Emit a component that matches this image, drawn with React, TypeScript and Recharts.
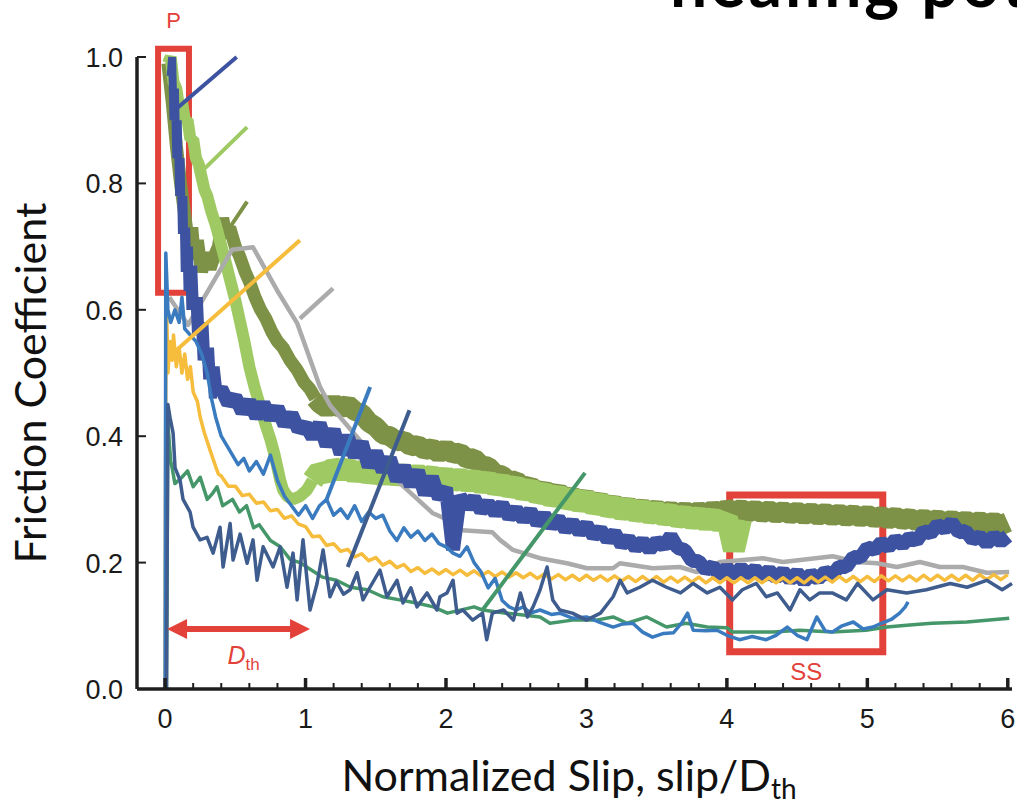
import { LineChart, Line, XAxis, YAxis, ReferenceArea, ReferenceLine } from 'recharts';

type Pt = [number, number];

const W = 1017;
const H = 807;

const X_TICKS = [0, 0.2, 0.4, 0.6, 0.8, 1, 1.2, 1.4, 1.6, 1.8, 2, 2.2, 2.4, 2.6, 2.8, 3, 3.2, 3.4, 3.6, 3.8, 4, 4.2, 4.4, 4.6, 4.8, 5, 5.2, 5.4, 5.6, 5.8, 6];
const Y_TICKS = [0, 0.2, 0.4, 0.6, 0.8, 1.0];

// dense noisy runs are sampled every GRID_STEP in slip
const GRID_STEP = 0.05;

// dark blue run: steep head, then sampled body from 0.40
const DARK_BLUE_HEAD: Pt[] = [
  [0.04, 0.97], [0.05, 1.0], [0.06, 0.9], [0.07, 0.95], [0.08, 0.84], [0.09, 0.9], [0.1, 0.78],
  [0.11, 0.84], [0.12, 0.72], [0.13, 0.78], [0.14, 0.66], [0.15, 0.73], [0.16, 0.63], [0.17, 0.7],
  [0.18, 0.6], [0.2, 0.67], [0.22, 0.56], [0.24, 0.62], [0.26, 0.52], [0.28, 0.58], [0.3, 0.49],
  [0.32, 0.54], [0.34, 0.46], [0.36, 0.51], [0.38, 0.47],
];
const DARK_BLUE_BODY = [
  0.475, 0.452, 0.462, 0.438, 0.455, 0.43, 0.452, 0.428, 0.445, 0.418, 0.435, 0.41,
  0.418, 0.398, 0.42, 0.385, 0.41, 0.372, 0.4, 0.368, 0.39, 0.352, 0.375, 0.345, 0.365, 0.33, 0.352, 0.322, 0.345, 0.308, 0.335, 0.302,
  0.318, 0.22, 0.305, 0.288, 0.302, 0.282, 0.294, 0.278, 0.292, 0.272, 0.284, 0.268, 0.282, 0.262, 0.275, 0.258, 0.27, 0.252, 0.264, 0.248,
  0.26, 0.242, 0.252, 0.236, 0.247, 0.228, 0.238, 0.223, 0.234, 0.22, 0.234, 0.226, 0.242, 0.223, 0.22, 0.203, 0.202, 0.188, 0.195, 0.178,
  0.192, 0.18, 0.192, 0.181, 0.19, 0.178, 0.188, 0.176, 0.186, 0.173, 0.184, 0.17, 0.182, 0.174, 0.186, 0.18, 0.194, 0.193, 0.209, 0.208,
  0.224, 0.22, 0.232, 0.224, 0.237, 0.228, 0.24, 0.234, 0.25, 0.246, 0.26, 0.253, 0.264, 0.248, 0.25, 0.236, 0.242, 0.23, 0.242, 0.233,
  0.242,
];

const LIGHT_GREEN_HEAD: Pt[] = [
  [0.02, 0.99], [0.04, 1.0], [0.06, 0.96], [0.08, 0.95], [0.1, 0.92], [0.12, 0.93], [0.14, 0.9],
  [0.16, 0.9], [0.18, 0.87], [0.2, 0.87], [0.22, 0.84], [0.24, 0.83], [0.26, 0.81], [0.28, 0.79],
  [0.3, 0.78], [0.33, 0.755], [0.36, 0.735], [0.39, 0.71], [0.42, 0.685], [0.46, 0.65], [0.5, 0.615],
  [0.53, 0.585], [0.56, 0.555], [0.6, 0.51], [0.64, 0.475], [0.68, 0.445], [0.72, 0.415], [0.75, 0.395],
  [0.78, 0.37], [0.8, 0.35], [0.82, 0.33], [0.84, 0.315], [0.87, 0.305], [0.91, 0.3], [0.96, 0.305],
  [1.01, 0.315], [1.05, 0.33],
];
const LIGHT_GREEN_BODY = [
  0.345, 0.34, 0.35, 0.345, 0.35, 0.34, 0.348, 0.338, 0.345, 0.336, 0.344, 0.335, 0.342, 0.334, 0.34, 0.333, 0.338, 0.33,
  0.336, 0.328, 0.334, 0.327, 0.332, 0.324, 0.33, 0.32, 0.326, 0.317, 0.322, 0.312, 0.318, 0.307, 0.312, 0.302, 0.308, 0.298, 0.303, 0.294,
  0.3, 0.29, 0.295, 0.286, 0.29, 0.282, 0.287, 0.279, 0.284, 0.276, 0.281, 0.274, 0.278, 0.27, 0.275, 0.268, 0.273, 0.265, 0.272, 0.262,
  0.27, 0.22, 0.268,
];

const OLIVE_HEAD: Pt[] = [
  [0.02, 0.99], [0.05, 0.93], [0.08, 0.86], [0.11, 0.8], [0.14, 0.75], [0.17, 0.7], [0.19, 0.73],
  [0.21, 0.68], [0.23, 0.71], [0.26, 0.66], [0.29, 0.69], [0.32, 0.665], [0.35, 0.685], [0.38, 0.7],
  [0.41, 0.745], [0.43, 0.72], [0.46, 0.73], [0.5, 0.7], [0.53, 0.685], [0.57, 0.66], [0.6, 0.645],
  [0.64, 0.62], [0.68, 0.6], [0.72, 0.585], [0.76, 0.565], [0.8, 0.55], [0.84, 0.54], [0.89, 0.52],
  [0.94, 0.505], [0.99, 0.485], [1.03, 0.475], [1.07, 0.46],
];
const OLIVE_BODY = [
  0.452, 0.444, 0.452, 0.444, 0.45, 0.44, 0.436, 0.422, 0.415, 0.403, 0.4, 0.392, 0.393, 0.384, 0.386, 0.378, 0.381, 0.373,
  0.38, 0.372, 0.374, 0.364, 0.365, 0.354, 0.352, 0.34, 0.338, 0.328, 0.33, 0.318, 0.322, 0.31, 0.316, 0.305, 0.312, 0.3, 0.306, 0.296,
  0.303, 0.292, 0.298, 0.288, 0.293, 0.284, 0.29, 0.281, 0.287, 0.279, 0.285, 0.277, 0.283, 0.276, 0.282, 0.275, 0.282, 0.276, 0.284, 0.277,
  0.286, 0.28, 0.285, 0.279, 0.284, 0.278, 0.283, 0.277, 0.282, 0.276, 0.281, 0.275, 0.28, 0.274, 0.279, 0.273, 0.278, 0.272, 0.277, 0.271,
  0.276, 0.27, 0.274, 0.268, 0.273, 0.267, 0.271, 0.265, 0.27, 0.264, 0.269, 0.263, 0.268, 0.262, 0.267, 0.261, 0.266, 0.26, 0.265, 0.259,
  0.264,
];

const GRAY: Pt[] = [
  [0.03, 0.62], [0.164, 0.576], [0.477, 0.695], [0.626, 0.699], [0.797, 0.631], [0.94, 0.579],
  [1.103, 0.478], [1.174, 0.449], [1.4, 0.39], [1.65, 0.33], [1.907, 0.278], [2.05, 0.264],
  [2.064, 0.252], [2.33, 0.248], [2.384, 0.236], [2.477, 0.22], [2.669, 0.207], [2.861, 0.199],
  [3.004, 0.191], [3.189, 0.191], [3.238, 0.199], [3.473, 0.191], [3.665, 0.193], [3.786, 0.185],
  [3.95, 0.201], [4.256, 0.207], [4.399, 0.201], [4.754, 0.21], [4.925, 0.201], [5.068, 0.199],
  [5.21, 0.193], [5.374, 0.201], [5.516, 0.193], [5.68, 0.193], [5.85, 0.184], [6.01, 0.185],
];

const YELLOW_HEAD: Pt[] = [
  [0.0, 0.0], [0.007, 0.65], [0.02, 0.5], [0.035, 0.55], [0.05, 0.52], [0.06, 0.56], [0.08, 0.51],
  [0.1, 0.54], [0.12, 0.5], [0.14, 0.53], [0.16, 0.49], [0.18, 0.51], [0.2, 0.47], [0.23, 0.455],
  [0.25, 0.43], [0.28, 0.405], [0.32, 0.378], [0.36, 0.352], [0.38, 0.34],
];
const YELLOW_BODY = [
  0.337, 0.321, 0.321, 0.306, 0.308, 0.294, 0.296, 0.282, 0.284, 0.270, 0.274, 0.261, 0.257, 0.241, 0.242, 0.227,
  0.230, 0.218, 0.221, 0.209, 0.214, 0.203, 0.208, 0.196, 0.202, 0.192, 0.197, 0.186, 0.192, 0.183, 0.190, 0.182,
  0.189, 0.181, 0.188, 0.180, 0.187, 0.179, 0.186, 0.178, 0.185, 0.177, 0.184, 0.176, 0.183, 0.175, 0.182, 0.174,
  0.181, 0.173, 0.180, 0.172, 0.180, 0.172, 0.179, 0.171, 0.179, 0.171, 0.178, 0.170, 0.178, 0.170, 0.178, 0.169,
  0.177, 0.169, 0.177, 0.169, 0.177, 0.168, 0.176, 0.168, 0.176, 0.168, 0.176, 0.168, 0.176, 0.168, 0.176, 0.168,
  0.176, 0.168, 0.176, 0.168, 0.177, 0.169, 0.177, 0.169, 0.178, 0.170, 0.178, 0.170, 0.178, 0.170, 0.179, 0.171,
  0.179, 0.171, 0.179, 0.171, 0.180, 0.172, 0.180, 0.172, 0.180, 0.172, 0.180, 0.172, 0.181, 0.173, 0.181, 0.173,
  0.181,
];

const MEDIUM_BLUE: Pt[] = [
  [0.0, 0.0], [0.005, 0.69], [0.02, 0.6], [0.04, 0.58], [0.07, 0.6], [0.1, 0.58], [0.12, 0.62],
  [0.14, 0.57], [0.18, 0.56], [0.22, 0.55], [0.26, 0.53], [0.3, 0.5], [0.33, 0.46], [0.36, 0.43],
  [0.4, 0.4], [0.44, 0.385], [0.48, 0.37], [0.52, 0.355], [0.56, 0.365], [0.6, 0.345], [0.65, 0.36],
  [0.7, 0.34], [0.75, 0.37], [0.8, 0.33], [0.85, 0.305], [0.9, 0.29], [0.95, 0.275], [1.0, 0.29],
  [1.05, 0.27], [1.1, 0.29], [1.15, 0.3], [1.2, 0.275], [1.25, 0.285], [1.3, 0.27], [1.35, 0.29],
  [1.4, 0.265], [1.45, 0.28], [1.5, 0.27], [1.55, 0.275], [1.6, 0.25], [1.65, 0.235], [1.7, 0.255],
  [1.75, 0.24], [1.8, 0.25], [1.85, 0.235], [1.9, 0.245], [1.95, 0.23], [2.0, 0.225], [2.05, 0.215],
  [2.1, 0.21], [2.15, 0.225], [2.2, 0.2], [2.25, 0.185], [2.3, 0.16], [2.35, 0.175], [2.4, 0.14],
  [2.45, 0.13], [2.5, 0.125], [2.55, 0.13], [2.6, 0.12], [2.67, 0.125], [2.75, 0.118], [2.81, 0.12],
  [2.9, 0.112], [3.0, 0.114], [3.1, 0.105], [3.19, 0.098], [3.26, 0.103], [3.33, 0.104], [3.4, 0.09],
  [3.47, 0.082], [3.55, 0.088], [3.62, 0.089], [3.68, 0.105], [3.72, 0.12], [3.76, 0.093], [3.85, 0.092],
  [3.93, 0.093], [4.0, 0.085], [4.09, 0.078], [4.18, 0.083], [4.28, 0.078], [4.35, 0.085], [4.43, 0.098],
  [4.5, 0.085], [4.57, 0.078], [4.64, 0.114], [4.7, 0.092], [4.75, 0.09], [4.82, 0.1], [4.9, 0.106],
  [4.97, 0.095], [5.04, 0.098], [5.1, 0.104], [5.17, 0.11], [5.23, 0.12], [5.27, 0.13], [5.29, 0.138],
];

const SLATE: Pt[] = [
  [0.01, 0.0], [0.02, 0.45], [0.035, 0.43], [0.057, 0.405], [0.071, 0.35], [0.107, 0.33], [0.128, 0.3],
  [0.178, 0.28], [0.199, 0.256], [0.249, 0.236], [0.299, 0.24], [0.342, 0.215], [0.391, 0.256],
  [0.413, 0.193], [0.463, 0.262], [0.484, 0.204], [0.534, 0.245], [0.584, 0.199], [0.626, 0.236],
  [0.655, 0.172], [0.698, 0.225], [0.769, 0.193], [0.819, 0.225], [0.868, 0.161], [0.911, 0.215],
  [0.94, 0.141], [0.982, 0.236], [1.032, 0.125], [1.082, 0.167], [1.125, 0.22], [1.174, 0.146],
  [1.22, 0.17], [1.27, 0.15], [1.317, 0.157], [1.367, 0.184], [1.409, 0.141], [1.459, 0.161],
  [1.53, 0.188], [1.58, 0.146], [1.651, 0.172], [1.694, 0.136], [1.75, 0.16], [1.794, 0.13],
  [1.865, 0.152], [1.936, 0.125], [1.957, 0.146], [2.007, 0.152], [2.05, 0.172], [2.078, 0.12],
  [2.12, 0.125], [2.19, 0.109], [2.26, 0.12], [2.29, 0.078], [2.33, 0.12], [2.41, 0.125], [2.48, 0.109],
  [2.53, 0.152], [2.58, 0.114], [2.62, 0.13], [2.67, 0.157], [2.72, 0.193], [2.76, 0.141], [2.81, 0.125],
  [2.9, 0.12], [3.0, 0.109], [3.1, 0.12], [3.19, 0.146], [3.24, 0.172], [3.29, 0.152], [3.38, 0.161],
  [3.47, 0.172], [3.57, 0.161], [3.67, 0.152], [3.76, 0.167], [3.86, 0.152], [3.95, 0.161], [4.04, 0.141],
  [4.11, 0.157], [4.21, 0.167], [4.28, 0.146], [4.36, 0.152], [4.45, 0.125], [4.52, 0.157], [4.59, 0.141],
  [4.66, 0.152], [4.75, 0.152], [4.85, 0.141], [4.93, 0.167], [5.04, 0.141], [5.14, 0.157], [5.28, 0.152],
  [5.42, 0.157], [5.59, 0.167], [5.71, 0.161], [5.85, 0.172], [5.96, 0.157], [6.03, 0.167],
];

const GREEN: Pt[] = [
  [0.01, 0.0], [0.02, 0.42], [0.04, 0.36], [0.05, 0.35], [0.07, 0.325], [0.12, 0.335], [0.16, 0.345],
  [0.2, 0.32], [0.25, 0.335], [0.3, 0.3], [0.34, 0.31], [0.37, 0.32], [0.41, 0.29], [0.48, 0.3],
  [0.53, 0.28], [0.58, 0.29], [0.63, 0.255], [0.67, 0.26], [0.75, 0.235], [0.82, 0.225], [0.89, 0.205],
  [0.96, 0.2], [1.03, 0.19], [1.12, 0.177], [1.22, 0.172], [1.32, 0.161], [1.44, 0.157], [1.55, 0.146],
  [1.67, 0.141], [1.79, 0.136], [1.91, 0.13], [2.01, 0.12], [2.2, 0.13], [2.26, 0.125], [2.43, 0.12],
  [2.67, 0.114], [2.74, 0.104], [2.9, 0.109], [3.07, 0.109], [3.19, 0.114], [3.29, 0.104], [3.43, 0.114],
  [3.57, 0.098], [3.71, 0.104], [3.86, 0.098], [4.0, 0.097], [4.04, 0.09], [4.16, 0.09], [4.33, 0.09],
  [4.52, 0.093], [4.75, 0.09], [4.99, 0.093], [5.14, 0.098], [5.28, 0.101], [5.46, 0.104], [5.71, 0.106],
  [6.01, 0.112],
];

// straight loading segments
const DARK_BLUE_LOAD: Pt[] = [[0.07, 0.916], [0.51, 1.0]];
const LIGHT_GREEN_LOAD: Pt[] = [[0.27, 0.821], [0.584, 0.889]];
const OLIVE_LOAD: Pt[] = [[0.463, 0.731], [0.584, 0.771]];
const YELLOW_LOAD: Pt[] = [[0.05, 0.53], [0.96, 0.71]];
const GRAY_LOAD: Pt[] = [[0.96, 0.586], [1.196, 0.634]];
const MEDIUM_BLUE_LOAD: Pt[] = [[1.15, 0.3], [1.46, 0.478]];
const SLATE_LOAD: Pt[] = [[1.3, 0.193], [1.74, 0.441]];
const GREEN_LOAD: Pt[] = [[2.26, 0.125], [2.99, 0.342]];

const C = {
  darkBlue: '#3d52a1',
  lightGreen: '#9fca63',
  olive: '#7d9246',
  gray: '#ababab',
  yellow: '#f6bc3c',
  mediumBlue: '#3a7bc0',
  slate: '#3e5c8e',
  green: '#45976a',
  red: '#e2423a',
  axis: '#1e1e1e',
};

const TICK_FONT = '"Liberation Sans", Arial, Helvetica, sans-serif';
const LABEL_FONT = 'Lato, "Open Sans", sans-serif';

const pairs = (pts: Pt[]) => pts.map(([x, y]) => ({ x, y }));
const onGrid = (start: number, ys: number[]) =>
  ys.map((y, i) => ({ x: Math.round((start + i * GRID_STEP) * 1000) / 1000, y }));

// the body of each thick run starts from the last head sample so the two pieces join
const withJoin = (head: Pt[], start: number, body: number[]) => [...pairs(head.slice(-1)), ...onGrid(start, body)];

const series = [
  { key: 'oliveHead', data: pairs(OLIVE_HEAD), color: C.olive, width: 13, join: 'bevel' },
  { key: 'oliveBody', data: withJoin(OLIVE_HEAD, 1.1, OLIVE_BODY), color: C.olive, width: 20, join: 'bevel' },
  { key: 'lightGreenHead', data: pairs(LIGHT_GREEN_HEAD), color: C.lightGreen, width: 12, join: 'bevel' },
  { key: 'lightGreenBody', data: withJoin(LIGHT_GREEN_HEAD, 1.1, LIGHT_GREEN_BODY), color: C.lightGreen, width: 22, join: 'bevel' },
  { key: 'gray', data: pairs(GRAY), color: C.gray, width: 4.5, join: 'round' },
  { key: 'darkBlueHead', data: pairs(DARK_BLUE_HEAD), color: C.darkBlue, width: 8, join: 'bevel' },
  { key: 'darkBlueBody', data: withJoin(DARK_BLUE_HEAD, 0.4, DARK_BLUE_BODY), color: C.darkBlue, width: 14, join: 'bevel' },
  { key: 'yellow', data: [...pairs(YELLOW_HEAD), ...onGrid(0.4, YELLOW_BODY)], color: C.yellow, width: 3.5, join: 'round' },
  { key: 'green', data: pairs(GREEN), color: C.green, width: 3.5, join: 'round' },
  { key: 'mediumBlue', data: pairs(MEDIUM_BLUE), color: C.mediumBlue, width: 3.5, join: 'round' },
  { key: 'slate', data: pairs(SLATE), color: C.slate, width: 3.5, join: 'round' },
  { key: 'dbLoad', data: pairs(DARK_BLUE_LOAD), color: C.darkBlue, width: 4, join: 'round' },
  { key: 'lgLoad', data: pairs(LIGHT_GREEN_LOAD), color: C.lightGreen, width: 4, join: 'round' },
  { key: 'olLoad', data: pairs(OLIVE_LOAD), color: C.olive, width: 4, join: 'round' },
  { key: 'ylLoad', data: pairs(YELLOW_LOAD), color: C.yellow, width: 4, join: 'round' },
  { key: 'grLoad', data: pairs(GRAY_LOAD), color: C.gray, width: 4.5, join: 'round' },
  { key: 'mbLoad', data: pairs(MEDIUM_BLUE_LOAD), color: C.mediumBlue, width: 4, join: 'round' },
  { key: 'slLoad', data: pairs(SLATE_LOAD), color: C.slate, width: 4, join: 'round' },
  { key: 'gnLoad', data: pairs(GREEN_LOAD), color: C.green, width: 4, join: 'round' },
];

function XTick({ x, y, payload }: any) {
  const v = payload.value as number;
  const major = Math.abs(v - Math.round(v)) < 1e-6;
  return (
    <g>
      <line x1={x} x2={x} y1={y} y2={y - (major ? 11 : 6)} stroke={C.axis} strokeWidth={major ? 3.5 : 2} />
      {major && (
        <text x={x} y={y + 39} textAnchor="middle" fontSize={27} fill="#1a1a1a" fontFamily={TICK_FONT}>
          {v}
        </text>
      )}
    </g>
  );
}

function YTick({ x, y, payload }: any) {
  const v = payload.value as number;
  return (
    <g>
      <line x1={x} x2={x + 9} y1={y} y2={y} stroke={C.axis} strokeWidth={2} />
      <text x={x - 14} y={y + 10} textAnchor="end" fontSize={27} fill="#1a1a1a" fontFamily={TICK_FONT}>
        {v.toFixed(1)}
      </text>
    </g>
  );
}

// double-headed red arrow marking one D_th of slip
function DthArrow(props: any) {
  const { x1, y1, x2, y2 } = props;
  const head = 20;
  const half = 10;
  const cx = (x1 + x2) / 2;
  return (
    <g>
      <line x1={x1 + head - 2} y1={y1} x2={x2 - head + 2} y2={y2} stroke={C.red} strokeWidth={6} />
      <polygon points={`${x1},${y1} ${x1 + head},${y1 - half} ${x1 + head},${y1 + half}`} fill={C.red} />
      <polygon points={`${x2},${y2} ${x2 - head},${y2 - half} ${x2 - head},${y2 + half}`} fill={C.red} />
      <text x={cx + 5} y={y1 + 35} textAnchor="middle" fill={C.red} fontFamily={TICK_FONT} fontSize={25}>
        <tspan fontStyle="italic">D</tspan>
        <tspan fontSize={17} dy={6}>th</tspan>
      </text>
    </g>
  );
}

export default function App() {
  return (
    <div style={{ position: 'absolute', left: 0, top: 0, width: W, height: H, background: '#fff', overflow: 'hidden' }}>
      <LineChart width={W} height={H} margin={{ top: 57, right: 5, bottom: 78, left: 77 }}>
        <XAxis
          type="number"
          dataKey="x"
          domain={[-0.2, 6.03]}
          ticks={X_TICKS}
          interval={0}
          height={40}
          tickSize={0}
          tickMargin={0}
          tickLine={false}
          axisLine={{ stroke: C.axis, strokeWidth: 3.5 }}
          tick={<XTick />}
        />
        <YAxis
          type="number"
          dataKey="y"
          domain={[0, 1]}
          ticks={Y_TICKS}
          interval={0}
          width={60}
          tickSize={0}
          tickMargin={0}
          tickLine={false}
          axisLine={{ stroke: C.axis, strokeWidth: 3.5 }}
          tick={<YTick />}
        />
        {series.map((s) => (
          <Line
            key={s.key}
            data={s.data}
            dataKey="y"
            type="linear"
            stroke={s.color}
            strokeWidth={s.width}
            strokeLinejoin={s.join as any}
            dot={false}
            activeDot={false}
            isAnimationActive={false}
          />
        ))}
        <ReferenceArea
          x1={-0.05}
          x2={0.17}
          y1={0.627}
          y2={1.013}
          fill="none"
          stroke={C.red}
          strokeWidth={6}
          ifOverflow="visible"
          label={{ value: 'P', position: 'top', offset: 21, fill: C.red, fontSize: 22, fontFamily: TICK_FONT }}
        />
        <ReferenceArea
          x1={4.02}
          x2={5.11}
          y1={0.059}
          y2={0.307}
          fill="none"
          stroke={C.red}
          strokeWidth={7}
          ifOverflow="visible"
          label={{ value: 'SS', position: 'bottom', offset: 11, fill: C.red, fontSize: 24, fontFamily: TICK_FONT }}
        />
        <ReferenceLine
          segment={[{ x: 0.014, y: 0.095 }, { x: 1.032, y: 0.095 }]}
          ifOverflow="visible"
          shape={DthArrow}
        />
      </LineChart>
      <svg width={W} height={H} style={{ position: 'absolute', left: 0, top: 0, pointerEvents: 'none' }}>
        <text x={670} y={7} fontSize={66} fontWeight={700} letterSpacing={3} fontFamily={LABEL_FONT} fill="#000">
          healing potential
        </text>
        <text
          x={46}
          y={383}
          transform="rotate(-90 46 383)"
          textAnchor="middle"
          fontSize={43}
          fontFamily={LABEL_FONT}
          fill="#111"
        >
          Friction Coefficient
        </text>
        <text x={569} y={791} textAnchor="middle" fontSize={43} fontFamily={LABEL_FONT} fill="#111">
          Normalized Slip, slip/D
          <tspan fontSize={28} dy={8}>th</tspan>
        </text>
      </svg>
    </div>
  );
}
